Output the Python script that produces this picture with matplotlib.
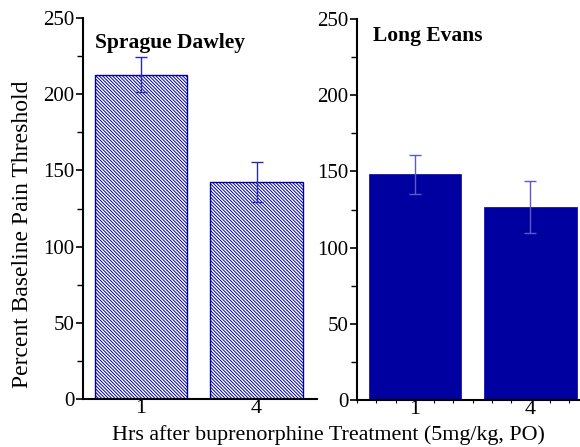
import matplotlib
matplotlib.use("Agg")
import matplotlib.pyplot as plt
from matplotlib.ticker import MultipleLocator

# data
hours = ["1", "4"]
sd_mean = [212.6, 142.6]
sd_err = [11.5, 13.0]
le_mean = [148.3, 126.8]
le_err = [12.8, 17.0]

BLUE = "#0000A0"
plt.rcParams["font.family"] = ["Liberation Serif", "DejaVu Serif"]
plt.rcParams["hatch.linewidth"] = 0.7

fig = plt.figure(figsize=(5.8, 4.47), dpi=100)
ax1 = fig.add_axes([0.143, 0.107, 0.403, 0.853])
ax2 = fig.add_axes([0.6155, 0.105, 0.3845, 0.8525])

x = [0, 1]
ax1.bar(x, sd_mean, width=0.8, color="white", edgecolor=BLUE, hatch="\\" * 10, linewidth=1.0)
ax1.errorbar(x, sd_mean, yerr=sd_err, fmt="none", ecolor="#2a2ab0", elinewidth=1.0,
             capsize=4, capthick=1.0)
ax2.bar(x, le_mean, width=0.8, color=BLUE, edgecolor=BLUE, linewidth=0.5)
ax2.errorbar(x, le_mean, yerr=le_err, fmt="none", ecolor="#5a5ac8", elinewidth=1.0,
             capsize=4, capthick=1.0)

ax1.set_xlim(-0.5, 1.52)
ax2.set_xlim(-0.5, 1.43)

for ax in (ax1, ax2):
    ax.set_ylim(0, 250)
    ax.yaxis.set_major_locator(MultipleLocator(50))
    ax.yaxis.set_minor_locator(MultipleLocator(25))
    ax.set_xticks(x)
    ax.set_xticklabels(hours)
    for s in ("top", "right"):
        ax.spines[s].set_visible(False)
    ax.spines["left"].set_linewidth(1.5)
    ax.spines["bottom"].set_linewidth(1.5)
    ax.tick_params(axis="y", which="major", direction="out", length=5, width=1.2,
                   labelsize=15, pad=1)
    ax.tick_params(axis="y", which="minor", direction="out", length=4, width=1.0)
    ax.tick_params(axis="x", which="major", length=0, labelsize=16, pad=0)

ax2.xaxis.set_minor_locator(MultipleLocator(1 / 6))
ax2.tick_params(axis="x", which="minor", direction="out", length=2, width=0.8)

ax1.text(0.05, 0.935, "Sprague Dawley", transform=ax1.transAxes, fontsize=15.5,
         fontweight="bold", va="center", ha="left")
ax2.text(0.07, 0.955, "Long Evans", transform=ax2.transAxes, fontsize=15.5,
         fontweight="bold", va="center", ha="left")

ax1.set_ylabel("Percent Baseline Pain Threshold", fontsize=17)
ax1.yaxis.set_label_coords(-0.215, 0.433)
fig.text(0.566, 0.026, "Hrs after buprenorphine Treatment (5mg/kg, PO)",
         fontsize=15.8, ha="center", va="center")

fig.savefig("out.png", dpi=100)
